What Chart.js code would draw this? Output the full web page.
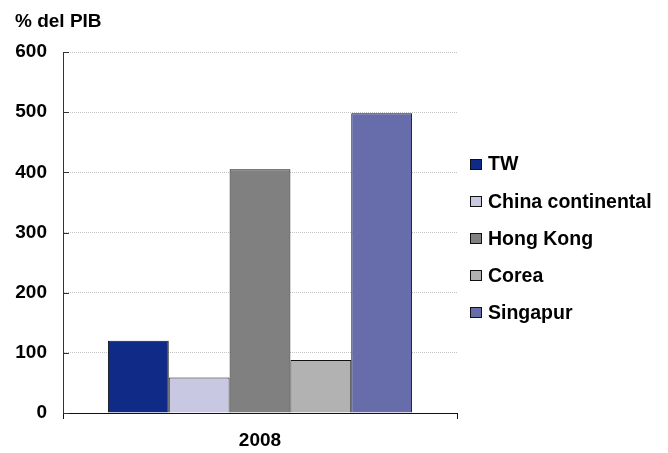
<!DOCTYPE html>
<html>
<head>
<meta charset="utf-8">
<script src="https://cdn.jsdelivr.net/npm/chart.js@4"></script>
<style>
  html, body { margin: 0; padding: 0; background: #fff; }
  #wrap { width: 668px; height: 453px; }
</style>
</head>
<body>
<div id="wrap"><canvas id="chart" width="668" height="453"></canvas></div>
<script>
(function () {
    'use strict';

    var categories = ['2008'];
    var seriesNames = ['TW', 'China continental', 'Hong Kong', 'Corea', 'Singapur'];
    var seriesValues = [120, 59, 405, 88, 498];
    var yTicks = [0, 100, 200, 300, 400, 500, 600];

    var COLORS = ['#0f2a87', '#c9c8e2', '#808080', '#b2b2b2', '#666daa'];
    var FONT = 'Arial, "Liberation Sans", sans-serif';

    var datasets = seriesNames.map(function (name, i) {
        return {
            label: name,
            data: [seriesValues[i]],
            backgroundColor: COLORS[i],
            borderColor: '#111',
            borderWidth: 1,
            barPercentage: 1,
            categoryPercentage: 0.772
        };
    });

    // Excel style: small tick marks pointing into the plot on the value axis.
    var innerTicks = {
        id: 'innerTicks',
        afterDatasetsDraw: function (chart) {
            var ctx = chart.ctx, y = chart.scales.y, left = chart.chartArea.left;
            ctx.save();
            ctx.strokeStyle = '#333';
            ctx.lineWidth = 1;
            yTicks.forEach(function (v) {
                var py = Math.round(y.getPixelForValue(v)) + 0.5;
                ctx.beginPath();
                ctx.moveTo(left, py);
                ctx.lineTo(left + 6, py);
                ctx.stroke();
            });
            ctx.restore();
        }
    };

    var sideLegend = {
        id: 'sideLegend',
        afterDraw: function (chart) {
            var ctx = chart.ctx;
            ctx.save();
            ctx.font = 'bold 19.5px ' + FONT;
            ctx.textBaseline = 'middle';
            chart.data.datasets.forEach(function (ds, i) {
                var cy = 164 + i * 37.2;
                ctx.fillStyle = ds.backgroundColor;
                ctx.fillRect(470, Math.round(cy - 5.5), 12, 11);
                ctx.strokeStyle = '#111';
                ctx.strokeRect(470.5, Math.round(cy - 5.5) + 0.5, 11, 10);
                ctx.fillStyle = '#000';
                ctx.fillText(ds.label, 488, cy + 1);
            });
            ctx.restore();
        }
    };

    new Chart(document.getElementById('chart'), {
        type: 'bar',
        data: { labels: categories, datasets: datasets },
        plugins: [innerTicks, sideLegend],
        options: {
            responsive: false,
            animation: false,
            layout: { padding: { left: 15, right: 211, top: 0, bottom: 0 } },
            plugins: {
                legend: { display: false },
                tooltip: { enabled: false },
                title: {
                    display: true,
                    text: '% del PIB',
                    align: 'start',
                    color: '#000',
                    font: { family: FONT, size: 19, weight: 'bold' },
                    padding: { top: 10, bottom: 19.2 }
                }
            },
            scales: {
                x: {
                    offset: true,
                    afterFit: function (scale) { scale.height = 40; },
                    border: { color: '#111', width: 1 },
                    grid: {
                        display: true,
                        offset: true,
                        drawOnChartArea: false,
                        drawTicks: true,
                        tickLength: 6,
                        color: '#111'
                    },
                    ticks: {
                        color: '#000',
                        padding: 10,
                        font: { family: FONT, size: 19, weight: 'bold' }
                    }
                },
                y: {
                    min: 0,
                    max: 600,
                    afterFit: function (scale) { scale.width = 48; },
                    afterBuildTicks: function (scale) {
                        scale.ticks = yTicks.map(function (v) { return { value: v }; });
                    },
                    border: { color: '#333', width: 1, dash: [1, 1] },
                    grid: { color: '#c4c4c4', drawTicks: false },
                    ticks: {
                        color: '#000',
                        padding: 16,
                        font: { family: FONT, size: 19, weight: 'bold' }
                    }
                }
            }
        }
    });
})();
</script>
</body>
</html>
